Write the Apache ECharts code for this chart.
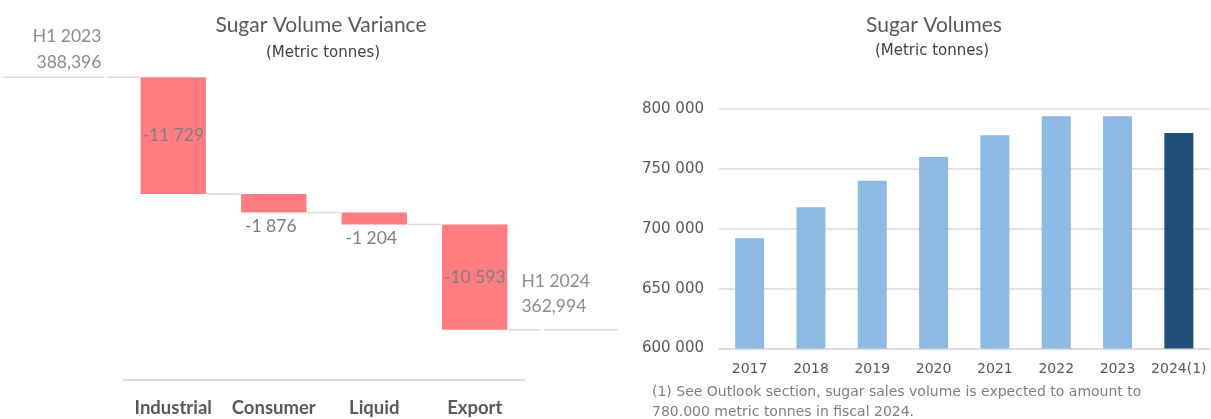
<!DOCTYPE html>
<html><head><meta charset="utf-8">
<script src="https://cdn.jsdelivr.net/npm/echarts/dist/echarts.min.js"></script>
<style>html,body{margin:0;padding:0;background:#fff}#c{width:1211px;height:419px}</style>
</head><body><div id="c"></div>
<script>
// ---- Waterfall (left) data ----
const varianceCategories = ['Industrial', 'Consumer', 'Liquid', 'Export'];
const varianceDeltas = [-11729, -1876, -1204, -10593];
const startLabel = 'H1 2023';
const startValue = 388396;
const endLabel = 'H1 2024';

// ---- Volumes (right) data ----
const volumeYears = ['2017', '2018', '2019', '2020', '2021', '2022', '2023', '2024(1)'];
const volumeValues = [692000, 718000, 740000, 760000, 778000, 794000, 794000, 780000];
const volumeTicks = [600000, 650000, 700000, 750000, 800000];
const footnoteLines = ['(1) See Outlook section, sugar sales volume is expected to amount to',
                       '780.000 metric tonnes in fiscal 2024.'];

const starts = [], ends = [];
let run = startValue;
varianceDeltas.forEach(d => { starts.push(run); run += d; ends.push(run); });
const endValue = run;

const fmtSpace = v => String(v).replace(/\B(?=(\d{3})+(?!\d))/g, ' ');
const fmtComma = v => String(v).replace(/\B(?=(\d{3})+(?!\d))/g, ',');

const LINE = { stroke: '#d9d9d9', lineWidth: 1.5 };
const CAL = 'Lato, "Open Sans", sans-serif';
const GOTH = '"DejaVu Sans", sans-serif';

function renderWaterfall(params, api) {
  const i = api.value(0);
  const s = api.value(1), e = api.value(2), d = api.value(3);
  const bw = api.size([1, 0])[0];
  const barW = bw * 0.65;
  const gap = bw - barW;
  const pS = api.coord([i, s]);
  const pE = api.coord([i, e]);
  const cx = pS[0];
  const left = cx - barW / 2, right = cx + barW / 2;
  const top = Math.min(pS[1], pE[1]);
  const h = Math.abs(pE[1] - pS[1]);
  const ch = [];
  ch.push({ type: 'rect', shape: { x: left, y: top, width: barW, height: h },
            style: { fill: '#FF7C80' } });
  const inside = h > 40;
  ch.push({ type: 'text', style: {
    text: fmtSpace(d), x: inside ? cx : cx - 3, y: inside ? top + h / 2 : top + h + 14,
    align: 'center', verticalAlign: 'middle',
    fontFamily: CAL, fontSize: 17.5, fill: '#7f7f7f' } });
  const last = varianceDeltas.length - 1;
  if (i < last) {
    ch.push({ type: 'line', shape: { x1: right + 1, y1: pE[1], x2: right + gap - 1, y2: pE[1] }, style: LINE });
  }
  if (i === 0) {
    ch.push({ type: 'line', shape: { x1: left - gap + 2, y1: pS[1], x2: left - 1, y2: pS[1] }, style: LINE });
    ch.push({ type: 'line', shape: { x1: left - gap - 2 - bw, y1: pS[1], x2: left - gap - 1, y2: pS[1] }, style: LINE });
    ch.push({ type: 'text', style: { text: startLabel, x: left - gap - 4, y: pS[1] - 41,
      align: 'right', verticalAlign: 'middle', fontFamily: CAL, fontSize: 17.5, fill: '#8c8c8c' } });
    ch.push({ type: 'text', style: { text: fmtComma(startValue), x: left - gap - 4, y: pS[1] - 15,
      align: 'right', verticalAlign: 'middle', fontFamily: CAL, fontSize: 17.5, fill: '#8c8c8c' } });
  }
  if (i === last) {
    ch.push({ type: 'line', shape: { x1: right + 1, y1: pE[1], x2: right + gap - 2, y2: pE[1] }, style: LINE });
    ch.push({ type: 'line', shape: { x1: right + gap + 1, y1: pE[1], x2: right + gap + 75, y2: pE[1] }, style: LINE });
    ch.push({ type: 'text', style: { text: endLabel, x: right + 14, y: pE[1] - 48,
      align: 'left', verticalAlign: 'middle', fontFamily: CAL, fontSize: 17.5, fill: '#8c8c8c' } });
    ch.push({ type: 'text', style: { text: fmtComma(endValue), x: right + 14, y: pE[1] - 23,
      align: 'left', verticalAlign: 'middle', fontFamily: CAL, fontSize: 17.5, fill: '#8c8c8c' } });
  }
  return { type: 'group', children: ch };
}

const chart = echarts.init(document.getElementById('c'), null, { renderer: 'canvas' });
chart.setOption({
  animation: false,
  backgroundColor: '#ffffff',
  grid: [
    { left: 123, top: 41.5, width: 402, height: 338 },
    { left: 719, top: 109, width: 490.5, height: 239.5 }
  ],
  xAxis: [
    { gridIndex: 0, type: 'category', data: varianceCategories,
      axisLine: { show: true, lineStyle: { color: '#d9d9d9', width: 2 } },
      axisTick: { show: false },
      axisLabel: { interval: 0, margin: 19, color: '#595959', fontFamily: CAL, fontWeight: 'bold', fontSize: 18.5 } },
    { gridIndex: 1, type: 'category', data: volumeYears,
      axisLine: { show: true, lineStyle: { color: '#d9d9d9', width: 1.5 } },
      axisTick: { show: false },
      axisLabel: { interval: 0, margin: 14, color: '#595959', fontFamily: GOTH, fontSize: 14 } }
  ],
  yAxis: [
    { gridIndex: 0, type: 'value', min: 358000, max: 392000, show: false, splitLine: { show: false } },
    { gridIndex: 1, type: 'value', min: volumeTicks[0], max: volumeTicks[volumeTicks.length - 1],
      interval: volumeTicks[1] - volumeTicks[0],
      axisLine: { show: false }, axisTick: { show: false },
      axisLabel: { margin: 15, color: '#595959', fontFamily: GOTH, fontSize: 15, formatter: v => fmtSpace(v) },
      splitLine: { show: true, lineStyle: { color: '#d9d9d9', width: 1.5 } } }
  ],
  series: [
    { type: 'custom', xAxisIndex: 0, yAxisIndex: 0, clip: false,
      renderItem: renderWaterfall,
      encode: { x: 0, y: [1, 2] },
      data: varianceCategories.map((c, i) => [i, starts[i], ends[i], varianceDeltas[i]]) },
    { type: 'bar', xAxisIndex: 1, yAxisIndex: 1, barWidth: 29,
      data: volumeValues.map((v, i) => ({ value: v,
        itemStyle: { color: i === volumeValues.length - 1 ? '#1F4E79' : '#8DB9E2' } })) }
  ],
  graphic: [
    { type: 'text', x: 321, y: 25, style: { text: 'Sugar Volume Variance',
      align: 'center', verticalAlign: 'middle', fontFamily: CAL, fontSize: 21, fill: '#595959' } },
    { type: 'text', x: 323, y: 53, style: { text: '(Metric tonnes)',
      align: 'center', verticalAlign: 'middle', fontFamily: GOTH, fontSize: 15, fill: '#404040' } },
    { type: 'text', x: 934, y: 25, style: { text: 'Sugar Volumes',
      align: 'center', verticalAlign: 'middle', fontFamily: CAL, fontSize: 21, fill: '#595959' } },
    { type: 'text', x: 932, y: 51, style: { text: '(Metric tonnes)',
      align: 'center', verticalAlign: 'middle', fontFamily: GOTH, fontSize: 15, fill: '#404040' } },
    { type: 'text', x: 652, y: 392, style: { text: footnoteLines[0],
      align: 'left', verticalAlign: 'middle', fontFamily: GOTH, fontSize: 14, fill: '#7f7f7f' } },
    { type: 'text', x: 652, y: 412, style: { text: footnoteLines[1],
      align: 'left', verticalAlign: 'middle', fontFamily: GOTH, fontSize: 14, fill: '#7f7f7f' } }
  ]
});
</script>
</body></html>
